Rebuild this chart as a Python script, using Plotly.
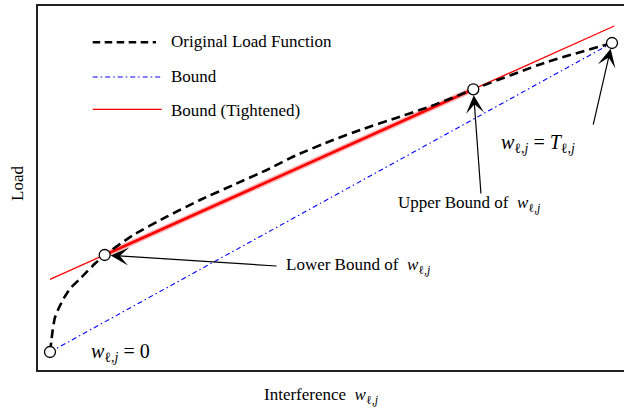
import plotly.graph_objects as go

# ---- data (normalised units: w in [0, T], load in [0, L(T)]) ----
load_w = [0.0, 0.0023, 0.0048, 0.0084, 0.0155, 0.0244, 0.0361, 0.0511, 0.0658,
          0.0806, 0.0973, 0.1482, 0.2077, 0.2669, 0.3262, 0.3856, 0.4390,
          0.5036, 0.5569, 0.6174, 0.6762, 0.7242, 0.7532, 0.8843, 1.0]
load_y = [0.0, 0.0333, 0.0712, 0.1091, 0.1414, 0.1738, 0.2061, 0.2330, 0.2599,
          0.2871, 0.3139, 0.3786, 0.4379, 0.4919, 0.5405, 0.5890, 0.6375,
          0.6861, 0.7217, 0.7583, 0.7945, 0.8285, 0.8502, 0.9385, 1.0]

bound_w = [0.0, 1.0]
bound_y = [0.0, 1.0]

tight_w = [0.0, 1.004]
tight_y = [0.235, 1.055]
tight_seg_w = [0.0973, 0.7532]
tight_seg_y = [0.3139, 0.8502]

key_w = [0.0, 0.0973, 0.7532, 1.0]
key_y = [0.0, 0.3139, 0.8502, 1.0]

legend_labels = ["Original Load Function", "Bound", "Bound (Tightened)"]

FONT = "Liberation Serif"
W, H = 624, 409
L, T, R, B = 38, 6, 0, 39
PW, PH = W - L - R, H - T - B


def px(xp):
    return (xp - L) / PW


def py(yp):
    return (H - B - yp) / PH


W_SYM = "<i>w</i><sub>ℓ,<i>j</i></sub>"

fig = go.Figure()

fig.add_trace(go.Scatter(x=bound_w, y=bound_y, mode="lines",
                         line=dict(color="blue", width=1.1, dash="5px,3px,1.5px,3px"),
                         showlegend=False, hoverinfo="skip"))
fig.add_trace(go.Scatter(x=tight_w, y=tight_y, mode="lines",
                         line=dict(color="red", width=1.3),
                         showlegend=False, hoverinfo="skip"))
fig.add_trace(go.Scatter(x=tight_seg_w, y=tight_seg_y, mode="lines",
                         line=dict(color="rgba(255,0,0,0.3)", width=5.5),
                         showlegend=False, hoverinfo="skip"))
fig.add_trace(go.Scatter(x=tight_seg_w, y=tight_seg_y, mode="lines",
                         line=dict(color="red", width=2.6),
                         showlegend=False, hoverinfo="skip"))
fig.add_trace(go.Scatter(x=load_w, y=load_y, mode="lines",
                         line=dict(color="black", width=2.6, dash="9px,5px", shape="spline", smoothing=0.5),
                         showlegend=False, hoverinfo="skip"))
fig.add_trace(go.Scatter(x=key_w, y=key_y, mode="markers",
                         marker=dict(size=11, color="white", line=dict(color="black", width=1.3)),
                         showlegend=False, hoverinfo="skip"))

shapes = [
    dict(type="line", xref="paper", yref="paper", x0=px(92.7), x1=px(156), y0=py(42.3), y1=py(42.3),
         line=dict(color="black", width=2.6, dash="7.5px,4.5px")),
    dict(type="line", xref="paper", yref="paper", x0=px(92.7), x1=px(161.7), y0=py(77), y1=py(77),
         line=dict(color="blue", width=1.1, dash="5px,3px,1.5px,3px")),
    dict(type="line", xref="paper", yref="paper", x0=px(92.7), x1=px(161.7), y0=py(109.3), y1=py(109.3),
         line=dict(color="red", width=1.3)),
]

ann = []
for lbl, yy in zip(legend_labels, [41.7, 76.7, 110]):
    ann.append(dict(text=lbl, xref="paper", yref="paper", x=px(169), y=py(yy),
                    xanchor="left", yanchor="middle", showarrow=False,
                    font=dict(family=FONT, size=17, color="black")))

# arrows
arrow_common = dict(text="", showarrow=True, arrowhead=3, arrowsize=2.5, arrowwidth=1.2,
                    arrowcolor="black", axref="x", ayref="y", standoff=6)
ann.append(dict(x=key_w[1], y=key_y[1], ax=0.4057, ay=0.278, **arrow_common))
ann.append(dict(x=key_w[2], y=key_y[2], ax=0.767, ay=0.508, **arrow_common))
ann.append(dict(x=key_w[3], y=key_y[3], ax=0.966, ay=0.731, **arrow_common))

txt_font = dict(family=FONT, size=17, color="black")
ann.append(dict(text="Lower Bound of  " + W_SYM, xref="paper", yref="paper",
                x=px(284), y=py(266), xanchor="left", yanchor="middle", showarrow=False, font=txt_font))
ann.append(dict(text="Upper Bound of  " + W_SYM, xref="paper", yref="paper",
                x=px(396), y=py(204), xanchor="left", yanchor="middle", showarrow=False, font=txt_font))
ann.append(dict(text=W_SYM + " = <i>T</i><sub>ℓ,<i>j</i></sub>", xref="paper", yref="paper",
                x=px(499), y=py(143), xanchor="left", yanchor="middle", showarrow=False,
                font=dict(family=FONT, size=20, color="black")))
ann.append(dict(text=W_SYM + " = 0", xref="paper", yref="paper",
                x=px(89), y=py(352), xanchor="left", yanchor="middle", showarrow=False,
                font=dict(family=FONT, size=20, color="black")))
ann.append(dict(text="Interference  " + W_SYM, xref="paper", yref="paper",
                x=px(262), y=py(396), xanchor="left", yanchor="middle", showarrow=False, font=txt_font))
ann.append(dict(text="Load", xref="paper", yref="paper", textangle=-90,
                x=px(17), y=py(184), xanchor="center", yanchor="middle", showarrow=False, font=txt_font))

fig.update_layout(
    width=W, height=H,
    margin=dict(l=L, r=R, t=T, b=B),
    paper_bgcolor="white", plot_bgcolor="white",
    shapes=shapes, annotations=ann,
    xaxis=dict(range=[(L - 50) / 562, (W - 50) / 562], showgrid=False, zeroline=False,
               showticklabels=False, ticks="", showline=True, linecolor="#222", linewidth=2, mirror=True),
    yaxis=dict(range=[(352 - (H - B)) / 309, (352 - T) / 309], showgrid=False, zeroline=False,
               showticklabels=False, ticks="", showline=True, linecolor="#222", linewidth=2),
)

fig.write_html("out.html", config={"displayModeBar": False},
               post_script="document.body.style.margin='0';document.body.style.overflow='hidden';")
